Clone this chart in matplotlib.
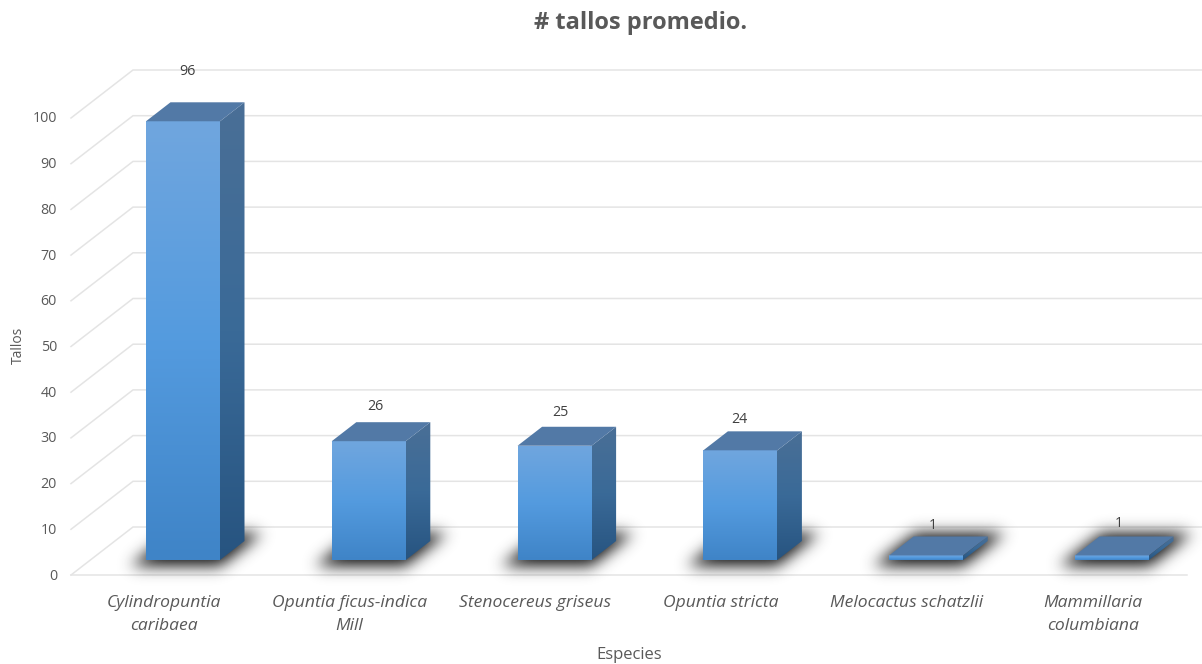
import numpy as np
import matplotlib
matplotlib.use('Agg')
import matplotlib.pyplot as plt
from matplotlib.colors import LinearSegmentedColormap
from matplotlib.patches import Polygon

plt.rcParams['font.family'] = ['Open Sans', 'DejaVu Sans']

species = ['Cylindropuntia\ncaribaea', 'Opuntia ficus-indica\nMill', 'Stenocereus griseus',
           'Opuntia stricta', 'Melocactus schatzlii', 'Mammillaria\ncolumbiana']
tallos = [96, 26, 25, 24, 1, 1]
y_ticks = list(range(0, 101, 10))

TEXT = '#595959'
GRID = '#e4e4e4'
PX_X = 185.8   # pixels per category
PX_Y = 4.57    # pixels per value unit
BAR_WIDTH = 74 / PX_X
# depth of the floor, as a shift in category and value units
DEPTH_X = 62 / PX_X
DEPTH_Y = 48 / PX_Y
BAR_Z0 = 0.3125
BAR_Z1 = 0.708
# label nudges in pixels
LABEL_OFFSETS = [(-8, 31), (-6, 16), (-6, 14), (-13, 12), (-6, 11), (-5, 13)]

front_cmap = LinearSegmentedColormap.from_list('front', ['#3f84c7', '#549bdf', '#70a6de'])
side_cmap = LinearSegmentedColormap.from_list('side', ['#275480', '#3a6a98', '#4a6f96'])


def project(cat, value, z):
    return cat + DEPTH_X * z, value + DEPTH_Y * z


def gradient_face(ax, corners, cmap, zorder):
    poly = Polygon(corners, closed=True, facecolor='none', edgecolor='none', zorder=zorder)
    ax.add_patch(poly)
    xs = [c[0] for c in corners]
    ys = [c[1] for c in corners]
    grad = np.linspace(0, 1, 256).reshape(-1, 1)
    im = ax.imshow(grad, cmap=cmap, origin='lower', aspect='auto', zorder=zorder,
                   extent=[min(xs), max(xs), min(ys), max(ys)], vmin=0, vmax=1)
    im.set_clip_path(poly)


def floor_shadow(ax, cat, zorder=2, sigma=7.5):
    # footprint on a one pixel grid, blurred along both screen axes
    xs = cat + np.arange(-80, 170) / PX_X
    ys = np.arange(-20, 65) / PX_Y
    X, Y = np.meshgrid(xs, ys)
    z = Y / DEPTH_Y
    u = X - DEPTH_X * z
    half = BAR_WIDTH / 2 + 8 / PX_X
    mask = ((np.abs(u - cat) < half) & (z > 0.17) & (z < 0.86)).astype(float)
    t = np.arange(-24, 25)
    kernel = np.exp(-t ** 2 / (2 * sigma ** 2))
    kernel /= kernel.sum()
    blur = np.apply_along_axis(lambda row: np.convolve(row, kernel, mode='same'), 1, mask)
    blur = np.apply_along_axis(lambda col: np.convolve(col, kernel, mode='same'), 0, blur)
    rgba = np.zeros(X.shape + (4,))
    rgba[..., :3] = 0.15
    rgba[..., 3] = np.clip(blur * 1.1, 0, 1)
    ax.imshow(rgba, origin='lower', aspect='auto', zorder=zorder,
              extent=[xs[0], xs[-1], ys[0], ys[-1]])


fig = plt.figure(figsize=(12.02, 6.64), dpi=100)
ax = fig.add_axes([0, 0, 1, 1])
ax.axis('off')

# left wall and back wall gridlines
x_wall = (71 - 163.6) / PX_X
x_end = (1187 - 163.6) / PX_X
for v in y_ticks:
    x0, y0 = project(x_wall, v, 0)
    x1, y1 = project(x_wall, v, 1)
    x2, y2 = project(x_end, v, 1)
    ax.plot([x0, x1, x2], [y0, y1, y2], color=GRID, lw=1.1, zorder=1, solid_joinstyle='miter')
    ax.annotate(str(v), (x0, y0), xytext=(-14, -1), textcoords='offset pixels', ha='right',
                va='center', fontsize=10.3, color=TEXT)
ax.plot([x_wall, x_end], [0, 0], color=GRID, lw=1.1, zorder=1)

for i, (name, val) in enumerate(zip(species, tallos)):
    floor_shadow(ax, i)
    l = i - BAR_WIDTH / 2
    r = i + BAR_WIDTH / 2
    fl, b0 = project(l, 0, BAR_Z0)
    fr, _ = project(r, 0, BAR_Z0)
    bl, b1 = project(l, 0, BAR_Z1)
    br, _ = project(r, 0, BAR_Z1)
    # side face starts a pixel under the front face so no gap shows between them
    under = fr - 1.5 / PX_X
    gradient_face(ax, [(under, b0), (fr, b0), (br, b1), (br, b1 + val), (fr, b0 + val), (under, b0 + val)],
                  side_cmap, 3)
    gradient_face(ax, [(fl, b0), (fr, b0), (fr, b0 + val), (fl, b0 + val)], front_cmap, 4)
    ax.add_patch(Polygon([(fl, b0 + val), (fr, b0 + val), (br, b1 + val), (bl, b1 + val)],
                         closed=True, facecolor='#5279a6', edgecolor='none', zorder=5))
    dx, dy = LABEL_OFFSETS[i]
    ax.annotate(str(val), ((fr + br) / 2 - BAR_WIDTH / 2, b1 + val), xytext=(dx, dy),
                textcoords='offset pixels', ha='center', va='center', fontsize=10.3,
                color='#404040', zorder=6)
    ax.annotate(name, (i, 0), xytext=(0, -20), textcoords='offset pixels', ha='center', va='top',
                fontsize=12.6, style='italic', color=TEXT, linespacing=1.55)

ax.set_xlim(-163.6 / PX_X, (1202 - 163.6) / PX_X)
ax.set_ylim((575 - 664) / PX_Y, 575 / PX_Y)

fig.text(641 / 1202, 1 - 23 / 664, '# tallos promedio.', ha='center', va='center',
         fontsize=17, fontweight='bold', color=TEXT)
fig.text(629 / 1202, 1 - 655 / 664, 'Especies', ha='center', va='center', fontsize=12, color=TEXT)
fig.text(18 / 1202, 1 - 345 / 664, 'Tallos', ha='center', va='center', rotation=90,
         fontsize=10, color=TEXT)

fig.savefig('out.png', dpi=100)
